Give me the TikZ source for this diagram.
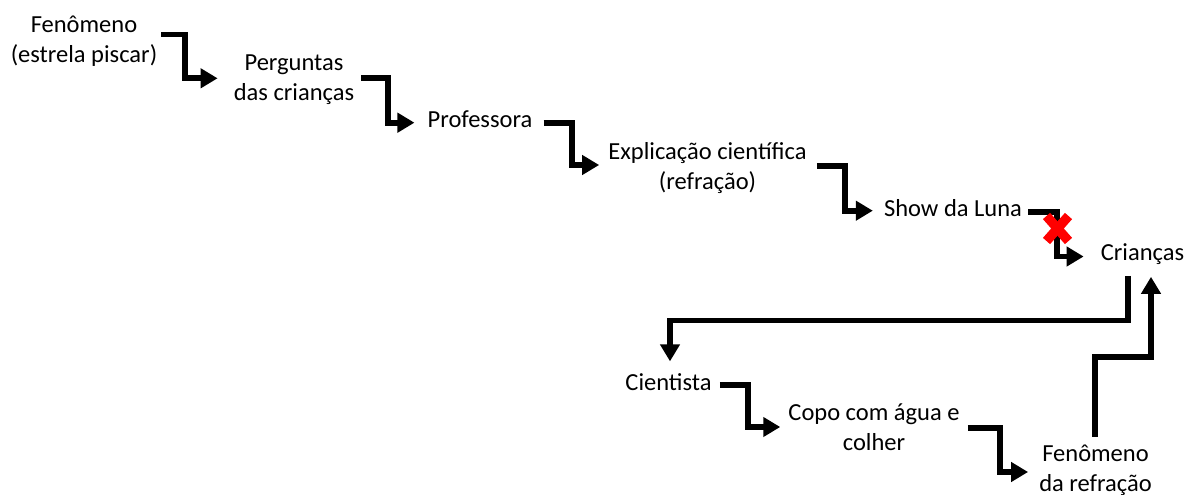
\documentclass[tikz,border=0pt]{standalone}
\usepackage{fontspec}
\setmainfont{Carlito}
\usetikzlibrary{arrows.meta}
% two centred lines, baseline on the first one
\newcommand\twoline[2]{\begin{tabular}[t]{@{}c@{}}#1\\#2\end{tabular}}
\tikzset{
  lbl/.style={inner sep=0pt, anchor=base, text=black,
              font=\fontsize{24.5}{30}\selectfont},
  flow/.style={draw=black, line width=5.7pt, line join=miter, line cap=butt,
               -{Triangle[width=19pt,length=17pt]}},
  cross/.style={draw=red, line width=9.5pt, line cap=butt}
}
\begin{document}
\begin{tikzpicture}[x=1pt,y=-1pt]
\useasboundingbox (0,0) rectangle (1189,495);

% steps of the sequence
\node[lbl] (fen1) at (84,33)      {\twoline{Fenômeno}{(estrela piscar)}};
\node[lbl] (perg) at (294,70.5)   {\twoline{Perguntas}{das crianças}};
\node[lbl] (prof) at (480,127.3)  {Professora};
\node[lbl] (expl) at (707.5,159)  {\twoline{Explicação científica}{(refração)}};
\node[lbl] (show) at (953,216.5)  {Show da Luna};
\node[lbl] (cri)  at (1142.5,260) {Crianças};
\node[lbl] (cien) at (668.5,390)  {Cientista};
\node[lbl] (copo) at (874,420)    {\twoline{Copo com água e}{colher}};
\node[lbl] (fen2) at (1095.5,461.5) {\twoline{Fenômeno}{da refração}};

% elbow points of the stepped connectors
\coordinate (a1) at (185,34.5);   \coordinate (b1) at (185,78.3);
\coordinate (a2) at (388,78);     \coordinate (b2) at (388,122.7);
\coordinate (a3) at (572,122.7);  \coordinate (b3) at (572,165);
\coordinate (a4) at (845,165.7);  \coordinate (b4) at (845,210.7);
\coordinate (a5) at (1057,212.3); \coordinate (b5) at (1057,256.5);
\coordinate (a6) at (1128,320.5); \coordinate (b6) at (670,320.5);
\coordinate (a7) at (748,385);    \coordinate (b7) at (748,427);
\coordinate (a8) at (1000,428);   \coordinate (b8) at (1000,472);
\coordinate (a9) at (1095,357);   \coordinate (b9) at (1151,357);

\draw[flow, shorten <=4pt,  shorten >=16pt] (fen1.east |- a1) -- (a1) -- (b1) -- (perg.west |- b1);
\draw[flow, shorten <=7pt,  shorten >=13pt] (perg.east |- a2) -- (a2) -- (b2) -- (prof.west |- b2);
\draw[flow, shorten <=11pt, shorten >=9pt]  (prof.east |- a3) -- (a3) -- (b3) -- (expl.west |- b3);
\draw[flow, shorten <=10pt, shorten >=11pt] (expl.east |- a4) -- (a4) -- (b4) -- (show.west |- b4);
\draw[flow, shorten <=6pt,  shorten >=17pt] (show.east |- a5) -- (a5) -- (b5) -- (cri.west |- b5);
\draw[flow, shorten <=11.5pt, shorten >=11.5pt] (cri.south -| a6) -- (a6) -- (b6) -- (cien.north -| b6);
\draw[flow, shorten <=8pt,  shorten >=8pt]  (cien.east |- a7) -- (a7) -- (b7) -- (copo.west |- b7);
\draw[flow, shorten <=8pt,  shorten >=11pt] (copo.east |- a8) -- (a8) -- (b8) -- (fen2.west |- b8);
\draw[flow, shorten <=3.5pt, shorten >=12.5pt] (fen2.north -| a9) -- (a9) -- (b9) -- (cri.south -| b9);

% red cross over the link to the children
\draw[cross] (1046.5,216) -- (1068.5,241);
\draw[cross] (1068.5,216) -- (1046.5,241);
\end{tikzpicture}
\end{document}
